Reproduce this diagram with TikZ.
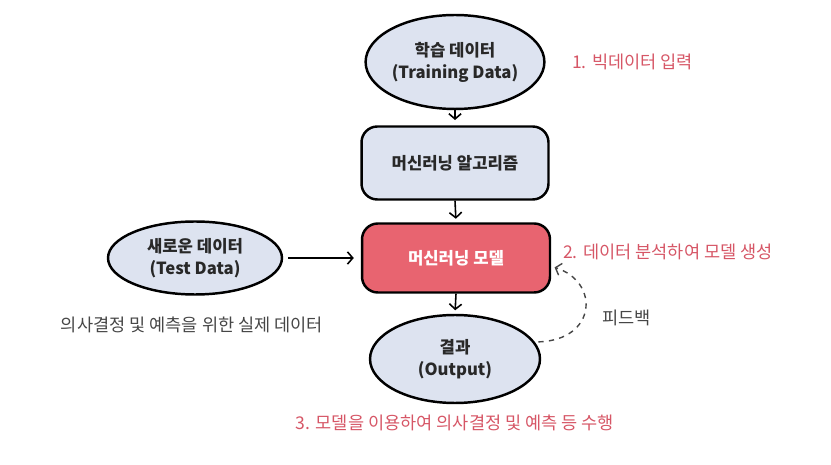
\documentclass[tikz,border=0pt]{standalone}
\usepackage{fontspec}
\setmainfont{Noto Sans CJK KR}
\usetikzlibrary{shapes.geometric,arrows.meta}
\definecolor{datablue}{RGB}{221,227,240}
\definecolor{modelred}{RGB}{232,100,112}
\definecolor{steptext}{RGB}{214,86,102}
\definecolor{inktext}{RGB}{40,40,40}
\definecolor{notetext}{RGB}{70,70,70}

\begin{document}
\begin{tikzpicture}[x=0.02cm, y=-0.02cm, font=\fontsize{10}{12.5}\selectfont,
    every node/.style={align=center, text=inktext},
    dataoval/.style={ellipse, draw=black, line width=1.4pt, fill=datablue,
                     inner sep=0pt, font=\fontsize{9.5}{12.5}\selectfont\bfseries},
    procbox/.style={rectangle, rounded corners=9pt, draw=black, line width=1.4pt,
                    inner sep=0pt, font=\fontsize{9.5}{12.5}\selectfont\bfseries},
    flow/.style={-{Straight Barb[length=3pt,width=7pt]}, line width=0.9pt},
    steplabel/.style={text=steptext}]
  \useasboundingbox (0,0) rectangle (831,465);

  % data sources and process
  \node[dataoval, minimum width=3.44cm, minimum height=1.88cm] (train) at (455,62)
       {학습 데이터\\(Training Data)};
  \node[procbox, fill=datablue, minimum width=3.74cm, minimum height=1.46cm] (algo) at (455,163)
       {머신러닝 알고리즘};
  \node[procbox, fill=modelred, text=white, minimum width=3.76cm, minimum height=1.38cm] (model) at (456,258)
       {머신러닝 모델};
  \node[dataoval, minimum width=3.48cm, minimum height=1.46cm] (test) at (195,258)
       {새로운 데이터\\(Test Data)};
  \node[dataoval, minimum width=3.4cm, minimum height=1.76cm] (out) at (455,359)
       {결과\\(Output)};

  % side notes
  \node[steplabel, anchor=west] (step1) at (566,62) {1. 빅데이터 입력};
  \node[steplabel, anchor=west] (step2) at (557,252) {2. 데이터 분석하여 모델 생성};
  \node[steplabel] (step3) at (455,423) {3. 모델을 이용하여 의사결정 및 예측 등 수행};
  \node[text=notetext] (testnote) at (192,325) {의사결정 및 예측을 위한 실제 데이터};
  \node[text=notetext, anchor=west] (fblabel) at (596,318) {피드백};

  % arrows
  \draw[flow, shorten >=3pt] (train.south) -- (algo.north);
  \draw[flow, shorten >=2pt] (algo.south) -- (model.north);
  \draw[flow, shorten <=3pt, shorten >=4pt] (test.east) -- (model.west);
  \draw[flow, shorten >=2pt] (model.south) -- (out.north);
  \draw[flow, dashed, line width=0.8pt, notetext, shorten <=2pt, shorten >=2pt]
       (out.12) .. controls (597,340) and (600,282) .. (model.-5);
\end{tikzpicture}
\end{document}
